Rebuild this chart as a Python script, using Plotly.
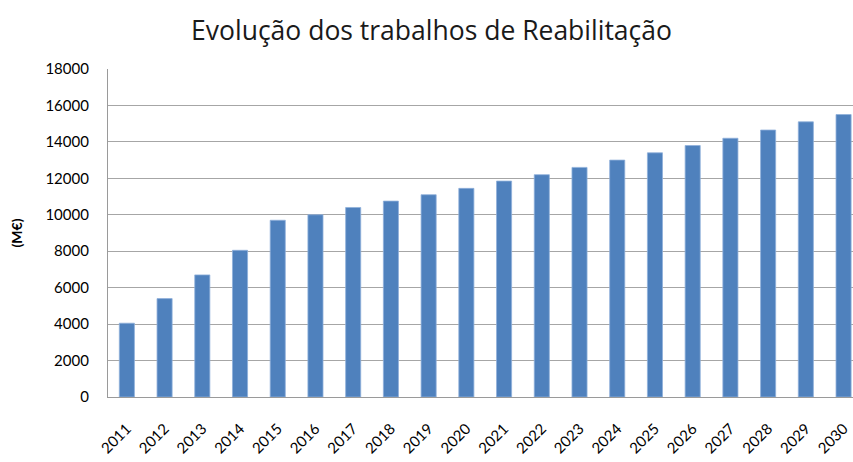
import plotly.graph_objects as go

years = [str(y) for y in range(2011, 2031)]
values = [4050, 5400, 6700, 8050, 9700, 10000, 10400, 10750, 11100, 11450,
          11850, 12200, 12600, 13000, 13400, 13800, 14200, 14650, 15100, 15500]
y_ticks = [0, 2000, 4000, 6000, 8000, 10000, 12000, 14000, 16000, 18000]

fig = go.Figure(go.Bar(
    x=years, y=values,
    marker=dict(color="#4F81BD", line=dict(color="#8FB0DA", width=0.8)),
))

fig.update_layout(
    width=853, height=462,
    margin=dict(l=108, r=0, t=69, b=65, autoexpand=False),
    paper_bgcolor="white", plot_bgcolor="white",
    bargap=0.6,
    showlegend=False,
    title=dict(text="Evolução dos trabalhos de Reabilitação", x=431.5 / 853, xanchor="center",
               xref="container",
               y=1 - 31 / 462, yanchor="middle", yref="container",
               font=dict(family="Open Sans, Lato, sans-serif", size=26.5, color="#1a1a1a")),
    font=dict(family="Lato, Open Sans, sans-serif", color="#000000"),
)

fig.update_xaxes(
    type="category", range=[-0.5, 19.25], automargin=False,
    tickangle=-45, tickfont=dict(size=15, color="#000"),
    ticklabelstandoff=16,
    showline=True, linecolor="#9a9a9a", linewidth=1.2,
    ticks="", showgrid=False,
)
fig.update_yaxes(
    range=[0, 18000], tickvals=y_ticks, ticktext=[str(v) for v in y_ticks],
    automargin=False,
    tickfont=dict(size=15, color="#000"),
    ticklabelstandoff=15,
    showgrid=True, gridcolor="#a6a6a6", gridwidth=1.4,
    showline=True, linecolor="#9a9a9a", linewidth=1.2, mirror=False,
    ticks="", ticklen=0,
    zeroline=False,
    title=dict(text="<b>(M€)</b>", font=dict(size=14, color="#000"), standoff=19),
)

fig.write_html("out.html", config={"displayModeBar": False},
               post_script="document.body.style.margin='0';document.body.style.overflow='hidden';")
